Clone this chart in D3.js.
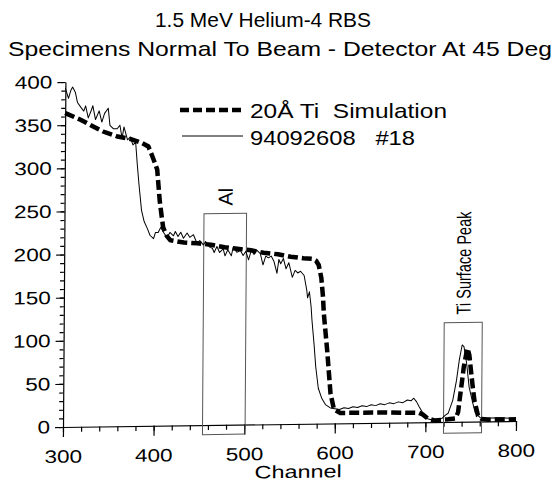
<!DOCTYPE html>
<html>
<head>
<meta charset="utf-8">
<script src="https://cdn.jsdelivr.net/npm/d3@7"></script>
<style>
  body { margin: 0; background: #fff; }
  text { font-family: "Liberation Sans", Arial, Helvetica, sans-serif; fill: #000; }
</style>
</head>
<body>
<svg id="chart" width="558" height="485"></svg>
<script>
// simulation (dashed) - channel / counts
const simChannels = [300, 302, 317, 331, 342, 358, 372, 385, 392, 396, 400, 402, 405, 407, 409, 413, 417, 432, 447, 462,
  477, 491, 506, 520, 536, 550, 564, 575, 578, 581, 584, 586, 587, 591, 593, 595, 599, 606, 650, 693,
  697, 703, 710, 725, 733, 736, 738, 740, 742, 745, 746, 748, 750, 752, 754, 758, 762, 770, 800];
const simCounts = [364, 363, 356, 348, 342, 336, 333, 328, 324, 314, 303, 297, 261, 245, 230, 220, 215, 212, 211, 209,
  206, 204, 202, 199, 197, 194, 192, 191, 189, 184, 169, 147, 128, 85, 60, 35, 16, 12, 12, 11,
  9, 4, 2, 3, 4, 11, 29, 46, 64, 81, 85, 77, 58, 40, 24, 7, 3, 2, 2];

// measured spectrum 94092608 #18 (thin line)
const measChannels = [300, 303.5, 306, 308, 311, 313.5, 317.5, 320.5, 322.5, 325.5, 328.5, 330.5, 333.5, 337.5, 340.5, 343.5,
  347.5, 349.5, 353.5, 357.5, 360.5, 363, 365, 369, 372, 375, 378, 380, 382, 385, 388, 391.5, 394.5, 398.5,
  400.5, 403.5, 406.5, 409.5, 413.5, 416.5, 420.5, 422.5, 425.5, 428.5, 431.5, 435.5, 438.5, 442.5, 446.5,
  449.5, 453.5, 456, 458.5, 461, 463.5, 465.5, 468.5, 471.5, 475.5, 477.5, 480.5, 484.5, 486.5, 490.5,
  494.5, 497.5, 500.5, 503.5, 506.5, 509.5, 512.5, 516.5, 519.5, 522.5, 525.5, 528.5, 531.5, 535, 537,
  539, 542, 545, 548, 552, 555, 558, 561, 565, 568, 569, 571, 573, 574, 576.5, 578.5, 581.5, 585.5, 589.5,
  595, 600, 605, 610, 615, 620, 625, 630, 635, 640, 645, 650, 655, 660, 665, 670, 675, 680, 684, 687,
  690, 693, 697, 700, 705, 712, 718, 722, 725, 730, 734, 737, 740, 742, 745, 748, 752, 755, 761, 770, 783, 800];
const measCounts = [393, 381, 390, 394, 388, 376, 370, 366, 372, 358, 366, 372, 356, 366, 353, 363,
  369, 349, 345, 345, 349, 334, 347, 332, 335, 326, 329, 303, 280, 250, 237, 229, 221, 217,
  224, 224, 230, 224, 218, 224, 220, 225, 219, 224, 217, 223, 218, 221, 211,
  214, 209, 213, 209, 206, 205, 200, 207, 200, 204, 196, 203, 196, 206, 200,
  202, 196, 201, 191, 202, 197, 202, 198, 185, 195, 193, 195, 189, 175, 191,
  186, 192, 180, 187, 170, 178, 175, 177, 172, 155, 146, 153, 135, 120, 92, 66, 41, 29, 22,
  18, 17, 16, 18, 17, 19, 18, 20, 19, 21, 20, 22, 21, 23, 22, 24, 23, 26, 25, 28,
  24, 18, 11, 5, 3, 3, 4, 8, 10, 25, 48, 72, 89, 87, 68, 40, 22, 10, 4, 4, 4, 3];

const xTicks = [300, 400, 500, 600, 700, 800];
const xMinor = d3.range(300, 801, 20);
const yTicks = [0, 50, 100, 150, 200, 250, 300, 350, 400];
const yMinor = d3.range(0, 401, 10);

const titleLines = ['1.5 MeV Helium-4 RBS', 'Specimens Normal To Beam - Detector At 45 Deg'];
const legendLabels = ['20Å Ti\u00a0 Simulation', '94092608\u00a0\u00a0\u00a0#18'];
const regions = [
  { name: 'Al', from: 454, to: 501, top: 245, bottom: -11 },
  { name: 'Ti Surface Peak', from: 720, to: 762, top: 115, bottom: -13 }
];

const svg = d3.select('#chart');
const stretch = 1.25; // lettering in the scan is wide

function widen(sel, k) {
  sel.each(function () {
    const w = this.getComputedTextLength();
    d3.select(this).attr('textLength', w * k).attr('lengthAdjust', 'spacingAndGlyphs');
  });
}

const x = d3.scaleLinear().domain([300, 800]).range([63, 516]);
const y = d3.scaleLinear().domain([0, 400]).range([427, 82]);

// the scanned plot is slightly skewed
const plot = svg.append('g')
  .attr('transform', 'matrix(1,-0.0132,-0.007,1,2.99,0.83)');

// x axis
plot.append('g')
  .attr('transform', `translate(0,${y(0)})`)
  .call(d3.axisBottom(x).tickValues(xMinor).tickSize(5).tickFormat(''))
  .call(g => g.select('.domain').remove());
const xAxis = plot.append('g')
  .attr('transform', `translate(0,${y(0)})`)
  .call(d3.axisBottom(x).tickValues(xTicks).tickSize(10).tickSizeOuter(0).tickPadding(13));
xAxis.selectAll('text').attr('font-size', 18).attr('font-family', null).call(widen, stretch);

// y axis
plot.append('g')
  .attr('transform', `translate(${x(300)},0)`)
  .call(d3.axisLeft(y).tickValues(yMinor).tickSize(4).tickFormat(''))
  .call(g => g.select('.domain').remove());
const yAxis = plot.append('g')
  .attr('transform', `translate(${x(300)},0)`)
  .call(d3.axisLeft(y).tickValues(yTicks).tickSize(8).tickSizeOuter(0).tickPadding(5));
yAxis.selectAll('text').attr('font-size', 18).attr('font-family', null).call(widen, stretch);

plot.selectAll('.domain, .tick line').attr('stroke', '#000').attr('stroke-width', 1.2);

plot.append('text')
  .attr('x', x(560))
  .attr('y', 481)
  .attr('text-anchor', 'middle')
  .attr('font-size', 18)
  .text('Channel')
  .call(widen, 1.3);

// marked regions
regions.forEach(r => {
  plot.append('rect')
    .attr('x', x(r.from))
    .attr('y', y(r.top))
    .attr('width', x(r.to) - x(r.from))
    .attr('height', y(r.bottom) - y(r.top))
    .attr('fill', 'none')
    .attr('stroke', '#555')
    .attr('stroke-width', 1);
  const cx = (x(r.from) + x(r.to)) / 2;
  const lab = plot.append('text')
    .attr('transform', `translate(${cx},${y(r.top) - 8}) rotate(-90)`)
    .attr('dy', '0.36em')
    .attr('font-size', 20)
    .text(r.name);
  if (r.name.length > 2) lab.attr('textLength', 103).attr('lengthAdjust', 'spacingAndGlyphs');
});

const line = d3.line().x(d => x(d[0])).y(d => y(d[1]));

plot.append('path')
  .datum(d3.zip(measChannels, measCounts))
  .attr('fill', 'none')
  .attr('stroke', '#000')
  .attr('stroke-width', 1)
  .attr('stroke-linejoin', 'round')
  .attr('d', line);

plot.append('path')
  .datum(d3.zip(simChannels, simCounts))
  .attr('fill', 'none')
  .attr('stroke', '#000')
  .attr('stroke-width', 4.5)
  .attr('stroke-dasharray', '10,4')
  .attr('d', line);

// titles
svg.append('text')
  .attr('x', 263).attr('y', 27)
  .attr('text-anchor', 'middle')
  .attr('font-size', 21)
  .attr('textLength', 216).attr('lengthAdjust', 'spacingAndGlyphs')
  .text(titleLines[0]);
svg.append('text')
  .attr('x', 280).attr('y', 56)
  .attr('text-anchor', 'middle')
  .attr('font-size', 21)
  .attr('textLength', 544).attr('lengthAdjust', 'spacingAndGlyphs')
  .text(titleLines[1]);

// legend
const legend = svg.append('g');
legend.append('line')
  .attr('x1', 180).attr('x2', 244).attr('y1', 110).attr('y2', 110)
  .attr('stroke', '#000').attr('stroke-width', 4.5).attr('stroke-dasharray', '9,4');
legend.append('line')
  .attr('x1', 182).attr('x2', 243).attr('y1', 136).attr('y2', 136)
  .attr('stroke', '#000').attr('stroke-width', 1);
legend.append('text')
  .attr('x', 250).attr('y', 118)
  .attr('font-size', 21)
  .attr('textLength', 197).attr('lengthAdjust', 'spacingAndGlyphs')
  .text(legendLabels[0]);
legend.append('text')
  .attr('x', 250).attr('y', 145)
  .attr('font-size', 21)
  .attr('textLength', 165).attr('lengthAdjust', 'spacingAndGlyphs')
  .text(legendLabels[1]);
</script>
</body>
</html>
